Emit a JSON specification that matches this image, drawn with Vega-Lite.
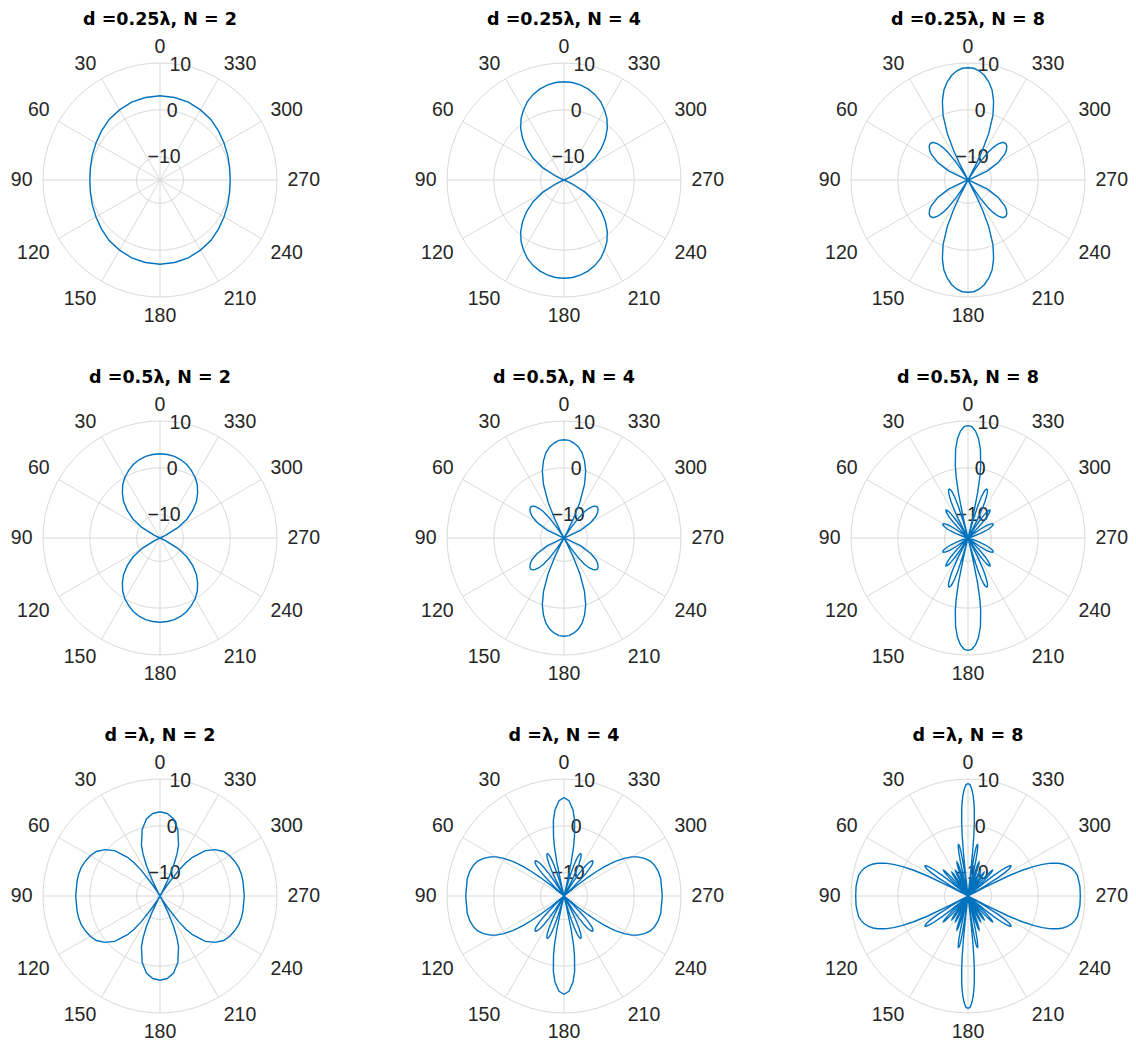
{
"$schema":"https://vega.github.io/schema/vega-lite/v6.json",
"background":"white",
"padding":{"left":10,"top":11,"right":5,"bottom":2},
"bounds":"flush",
"columns":3,
"spacing":{"row":124,"column":170},
"config":{"view":{"stroke":null},
 "title":{"font":"DejaVu Sans","fontSize":17.5,"fontWeight":"bold","color":"#000000","frame":"group","anchor":"middle","offset":8},
 "text":{"font":"Liberation Sans","fontSize":19.5,"color":"#262626"},
 "rule":{"color":"#d9d9d9","strokeWidth":1},
 "point":{"color":"#d9d9d9","strokeWidth":1,"opacity":1,"filled":false,"shape":"circle"},
 "line":{"color":"#0072BD","strokeWidth":1.4}},
"datasets":{
"spokes":[{"a":0},{"a":30},{"a":60},{"a":90},{"a":120},{"a":150}],
"rings":[{"v":-10},{"v":0},{"v":10}],
"alabels":[{"a":0,"t":"0"},{"a":30,"t":"30"},{"a":60,"t":"60"},{"a":90,"t":"90"},{"a":120,"t":"120"},{"a":150,"t":"150"},{"a":180,"t":"180"},{"a":210,"t":"210"},{"a":240,"t":"240"},{"a":270,"t":"270"},{"a":300,"t":"300"},{"a":330,"t":"330"}],
"rlabels":[{"v":-10,"t":"−10"},{"v":0,"t":"0"},{"v":10,"t":"10"}],
"curves":[
{"p":1,"a":0,"r":3.0},{"p":1,"a":10,"r":2.9},{"p":1,"a":20,"r":2.7},{"p":1,"a":30,"r":2.3},{"p":1,"a":40,"r":1.9},{"p":1,"a":50,"r":1.3},{"p":1,"a":60,"r":0.8},{"p":1,"a":70,"r":0.4},{"p":1,"a":80,"r":0.1},{"p":1,"a":90,"r":0},{"p":1,"a":100,"r":0.1},{"p":1,"a":110,"r":0.4},{"p":1,"a":120,"r":0.8},{"p":1,"a":130,"r":1.3},{"p":1,"a":140,"r":1.9},{"p":1,"a":150,"r":2.3},{"p":1,"a":160,"r":2.7},{"p":1,"a":170,"r":2.9},{"p":1,"a":180,"r":3.0},{"p":1,"a":190,"r":2.9},{"p":1,"a":200,"r":2.7},{"p":1,"a":210,"r":2.3},{"p":1,"a":220,"r":1.9},{"p":1,"a":230,"r":1.3},{"p":1,"a":240,"r":0.8},{"p":1,"a":250,"r":0.4},{"p":1,"a":260,"r":0.1},{"p":1,"a":270,"r":0},{"p":1,"a":280,"r":0.1},{"p":1,"a":290,"r":0.4},{"p":1,"a":300,"r":0.8},{"p":1,"a":310,"r":1.3},{"p":1,"a":320,"r":1.9},{"p":1,"a":330,"r":2.3},{"p":1,"a":340,"r":2.7},{"p":1,"a":350,"r":2.9},{"p":1,"a":360,"r":3.0},

{"p":2,"a":0,"r":6.0},{"p":2,"a":5,"r":5.9},{"p":2,"a":10,"r":5.6},{"p":2,"a":15,"r":5.1},{"p":2,"a":20,"r":4.4},{"p":2,"a":25,"r":3.5},{"p":2,"a":30,"r":2.3},{"p":2,"a":35,"r":1.0},{"p":2,"a":40,"r":-0.6},{"p":2,"a":45,"r":-2.5},{"p":2,"a":50,"r":-4.6},{"p":2,"a":55,"r":-7.0},{"p":2,"a":60,"r":-9.8},{"p":2,"a":65,"r":-13.1},{"p":2,"a":67,"r":-14.6},{"p":2,"a":68,"r":-15},{"p":2,"a":90,"r":-15},
{"p":2,"a":112,"r":-15},{"p":2,"a":113,"r":-14.6},{"p":2,"a":115,"r":-13.1},{"p":2,"a":120,"r":-9.8},{"p":2,"a":125,"r":-7.0},{"p":2,"a":130,"r":-4.6},{"p":2,"a":135,"r":-2.5},{"p":2,"a":140,"r":-0.6},{"p":2,"a":145,"r":1.0},{"p":2,"a":150,"r":2.3},{"p":2,"a":155,"r":3.5},{"p":2,"a":160,"r":4.4},{"p":2,"a":165,"r":5.1},{"p":2,"a":170,"r":5.6},{"p":2,"a":175,"r":5.9},{"p":2,"a":180,"r":6.0},
{"p":2,"a":185,"r":5.9},{"p":2,"a":190,"r":5.6},{"p":2,"a":195,"r":5.1},{"p":2,"a":200,"r":4.4},{"p":2,"a":205,"r":3.5},{"p":2,"a":210,"r":2.3},{"p":2,"a":215,"r":1.0},{"p":2,"a":220,"r":-0.6},{"p":2,"a":225,"r":-2.5},{"p":2,"a":230,"r":-4.6},{"p":2,"a":235,"r":-7.0},{"p":2,"a":240,"r":-9.8},{"p":2,"a":245,"r":-13.1},{"p":2,"a":247,"r":-14.6},{"p":2,"a":248,"r":-15},{"p":2,"a":270,"r":-15},
{"p":2,"a":292,"r":-15},{"p":2,"a":293,"r":-14.6},{"p":2,"a":295,"r":-13.1},{"p":2,"a":300,"r":-9.8},{"p":2,"a":305,"r":-7.0},{"p":2,"a":310,"r":-4.6},{"p":2,"a":315,"r":-2.5},{"p":2,"a":320,"r":-0.6},{"p":2,"a":325,"r":1.0},{"p":2,"a":330,"r":2.3},{"p":2,"a":335,"r":3.5},{"p":2,"a":340,"r":4.4},{"p":2,"a":345,"r":5.1},{"p":2,"a":350,"r":5.6},{"p":2,"a":355,"r":5.9},{"p":2,"a":360,"r":6.0},

{"p":3,"a":0,"r":9.0},{"p":3,"a":3,"r":8.9},{"p":3,"a":6,"r":8.4},{"p":3,"a":9,"r":7.6},{"p":3,"a":12,"r":6.4},{"p":3,"a":15,"r":4.9},{"p":3,"a":18,"r":2.7},{"p":3,"a":21,"r":-0.1},{"p":3,"a":24,"r":-4.1},{"p":3,"a":26,"r":-8.1},{"p":3,"a":27,"r":-10.8},{"p":3,"a":28,"r":-14.6},{"p":3,"a":28.3,"r":-15},{"p":3,"a":32,"r":-15},{"p":3,"a":33,"r":-12.6},{"p":3,"a":34,"r":-10.4},{"p":3,"a":36,"r":-7.6},{"p":3,"a":38,"r":-6.0},{"p":3,"a":40,"r":-4.9},{"p":3,"a":43,"r":-4.0},{"p":3,"a":46,"r":-3.8},{"p":3,"a":49,"r":-4.0},{"p":3,"a":52,"r":-4.6},{"p":3,"a":55,"r":-5.4},{"p":3,"a":60,"r":-7.6},{"p":3,"a":65,"r":-10.4},{"p":3,"a":70,"r":-14.2},{"p":3,"a":71,"r":-15},{"p":3,"a":90,"r":-15},
{"p":3,"a":109,"r":-15},{"p":3,"a":110,"r":-14.2},{"p":3,"a":115,"r":-10.4},{"p":3,"a":120,"r":-7.6},{"p":3,"a":125,"r":-5.4},{"p":3,"a":128,"r":-4.6},{"p":3,"a":131,"r":-4.0},{"p":3,"a":134,"r":-3.8},{"p":3,"a":137,"r":-4.0},{"p":3,"a":140,"r":-4.9},{"p":3,"a":142,"r":-6.0},{"p":3,"a":144,"r":-7.6},{"p":3,"a":146,"r":-10.4},{"p":3,"a":147,"r":-12.6},{"p":3,"a":148,"r":-15},{"p":3,"a":151.7,"r":-15},{"p":3,"a":152,"r":-14.6},{"p":3,"a":153,"r":-10.8},{"p":3,"a":154,"r":-8.1},{"p":3,"a":156,"r":-4.1},{"p":3,"a":159,"r":-0.1},{"p":3,"a":162,"r":2.7},{"p":3,"a":165,"r":4.9},{"p":3,"a":168,"r":6.4},{"p":3,"a":171,"r":7.6},{"p":3,"a":174,"r":8.4},{"p":3,"a":177,"r":8.9},{"p":3,"a":180,"r":9.0},
{"p":3,"a":183,"r":8.9},{"p":3,"a":186,"r":8.4},{"p":3,"a":189,"r":7.6},{"p":3,"a":192,"r":6.4},{"p":3,"a":195,"r":4.9},{"p":3,"a":198,"r":2.7},{"p":3,"a":201,"r":-0.1},{"p":3,"a":204,"r":-4.1},{"p":3,"a":206,"r":-8.1},{"p":3,"a":207,"r":-10.8},{"p":3,"a":208,"r":-14.6},{"p":3,"a":208.3,"r":-15},{"p":3,"a":212,"r":-15},{"p":3,"a":213,"r":-12.6},{"p":3,"a":214,"r":-10.4},{"p":3,"a":216,"r":-7.6},{"p":3,"a":218,"r":-6.0},{"p":3,"a":220,"r":-4.9},{"p":3,"a":223,"r":-4.0},{"p":3,"a":226,"r":-3.8},{"p":3,"a":229,"r":-4.0},{"p":3,"a":232,"r":-4.6},{"p":3,"a":235,"r":-5.4},{"p":3,"a":240,"r":-7.6},{"p":3,"a":245,"r":-10.4},{"p":3,"a":250,"r":-14.2},{"p":3,"a":251,"r":-15},{"p":3,"a":270,"r":-15},
{"p":3,"a":289,"r":-15},{"p":3,"a":290,"r":-14.2},{"p":3,"a":295,"r":-10.4},{"p":3,"a":300,"r":-7.6},{"p":3,"a":305,"r":-5.4},{"p":3,"a":308,"r":-4.6},{"p":3,"a":311,"r":-4.0},{"p":3,"a":314,"r":-3.8},{"p":3,"a":317,"r":-4.0},{"p":3,"a":320,"r":-4.9},{"p":3,"a":322,"r":-6.0},{"p":3,"a":324,"r":-7.6},{"p":3,"a":326,"r":-10.4},{"p":3,"a":327,"r":-12.6},{"p":3,"a":328,"r":-15},{"p":3,"a":331.7,"r":-15},{"p":3,"a":332,"r":-14.6},{"p":3,"a":333,"r":-10.8},{"p":3,"a":334,"r":-8.1},{"p":3,"a":336,"r":-4.1},{"p":3,"a":339,"r":-0.1},{"p":3,"a":342,"r":2.7},{"p":3,"a":345,"r":4.9},{"p":3,"a":348,"r":6.4},{"p":3,"a":351,"r":7.6},{"p":3,"a":354,"r":8.4},{"p":3,"a":357,"r":8.9},{"p":3,"a":360,"r":9.0},

{"p":4,"a":0,"r":3.0},{"p":4,"a":5,"r":2.9},{"p":4,"a":10,"r":2.7},{"p":4,"a":15,"r":2.3},{"p":4,"a":20,"r":1.7},{"p":4,"a":25,"r":0.9},{"p":4,"a":30,"r":0},{"p":4,"a":35,"r":-1.1},{"p":4,"a":40,"r":-2.5},{"p":4,"a":45,"r":-4.0},{"p":4,"a":50,"r":-5.9},{"p":4,"a":55,"r":-8.0},{"p":4,"a":60,"r":-10.6},{"p":4,"a":65,"r":-13.7},{"p":4,"a":67,"r":-15},{"p":4,"a":90,"r":-15},
{"p":4,"a":113,"r":-15},{"p":4,"a":115,"r":-13.7},{"p":4,"a":120,"r":-10.6},{"p":4,"a":125,"r":-8.0},{"p":4,"a":130,"r":-5.9},{"p":4,"a":135,"r":-4.0},{"p":4,"a":140,"r":-2.5},{"p":4,"a":145,"r":-1.1},{"p":4,"a":150,"r":0},{"p":4,"a":155,"r":0.9},{"p":4,"a":160,"r":1.7},{"p":4,"a":165,"r":2.3},{"p":4,"a":170,"r":2.7},{"p":4,"a":175,"r":2.9},{"p":4,"a":180,"r":3.0},
{"p":4,"a":185,"r":2.9},{"p":4,"a":190,"r":2.7},{"p":4,"a":195,"r":2.3},{"p":4,"a":200,"r":1.7},{"p":4,"a":205,"r":0.9},{"p":4,"a":210,"r":0},{"p":4,"a":215,"r":-1.1},{"p":4,"a":220,"r":-2.5},{"p":4,"a":225,"r":-4.0},{"p":4,"a":230,"r":-5.9},{"p":4,"a":235,"r":-8.0},{"p":4,"a":240,"r":-10.6},{"p":4,"a":245,"r":-13.7},{"p":4,"a":247,"r":-15},{"p":4,"a":270,"r":-15},
{"p":4,"a":293,"r":-15},{"p":4,"a":295,"r":-13.7},{"p":4,"a":300,"r":-10.6},{"p":4,"a":305,"r":-8.0},{"p":4,"a":310,"r":-5.9},{"p":4,"a":315,"r":-4.0},{"p":4,"a":320,"r":-2.5},{"p":4,"a":325,"r":-1.1},{"p":4,"a":330,"r":0},{"p":4,"a":335,"r":0.9},{"p":4,"a":340,"r":1.7},{"p":4,"a":345,"r":2.3},{"p":4,"a":350,"r":2.7},{"p":4,"a":355,"r":2.9},{"p":4,"a":360,"r":3.0},

{"p":5,"a":0,"r":6.0},{"p":5,"a":3,"r":5.9},{"p":5,"a":6,"r":5.4},{"p":5,"a":9,"r":4.7},{"p":5,"a":12,"r":3.6},{"p":5,"a":15,"r":2.0},{"p":5,"a":18,"r":0},{"p":5,"a":21,"r":-2.8},{"p":5,"a":24,"r":-6.7},{"p":5,"a":26,"r":-10.5},{"p":5,"a":27,"r":-13.2},{"p":5,"a":27.6,"r":-15},{"p":5,"a":32,"r":-15},{"p":5,"a":33,"r":-14.7},{"p":5,"a":34,"r":-12.5},{"p":5,"a":36,"r":-9.7},{"p":5,"a":38,"r":-7.9},{"p":5,"a":40,"r":-6.7},{"p":5,"a":43,"r":-5.7},{"p":5,"a":46,"r":-5.3},{"p":5,"a":48,"r":-5.3},{"p":5,"a":50,"r":-5.5},{"p":5,"a":53,"r":-6.0},{"p":5,"a":56,"r":-6.8},{"p":5,"a":60,"r":-8.4},{"p":5,"a":65,"r":-11.0},{"p":5,"a":70,"r":-14.6},{"p":5,"a":71,"r":-15},{"p":5,"a":90,"r":-15},
{"p":5,"a":109,"r":-15},{"p":5,"a":110,"r":-14.6},{"p":5,"a":115,"r":-11.0},{"p":5,"a":120,"r":-8.4},{"p":5,"a":124,"r":-6.8},{"p":5,"a":127,"r":-6.0},{"p":5,"a":130,"r":-5.5},{"p":5,"a":132,"r":-5.3},{"p":5,"a":134,"r":-5.3},{"p":5,"a":137,"r":-5.7},{"p":5,"a":140,"r":-6.7},{"p":5,"a":142,"r":-7.9},{"p":5,"a":144,"r":-9.7},{"p":5,"a":146,"r":-12.5},{"p":5,"a":147,"r":-14.7},{"p":5,"a":148,"r":-15},{"p":5,"a":152.4,"r":-15},{"p":5,"a":153,"r":-13.2},{"p":5,"a":154,"r":-10.5},{"p":5,"a":156,"r":-6.7},{"p":5,"a":159,"r":-2.8},{"p":5,"a":162,"r":0},{"p":5,"a":165,"r":2.0},{"p":5,"a":168,"r":3.6},{"p":5,"a":171,"r":4.7},{"p":5,"a":174,"r":5.4},{"p":5,"a":177,"r":5.9},{"p":5,"a":180,"r":6.0},
{"p":5,"a":183,"r":5.9},{"p":5,"a":186,"r":5.4},{"p":5,"a":189,"r":4.7},{"p":5,"a":192,"r":3.6},{"p":5,"a":195,"r":2.0},{"p":5,"a":198,"r":0},{"p":5,"a":201,"r":-2.8},{"p":5,"a":204,"r":-6.7},{"p":5,"a":206,"r":-10.5},{"p":5,"a":207,"r":-13.2},{"p":5,"a":207.6,"r":-15},{"p":5,"a":212,"r":-15},{"p":5,"a":213,"r":-14.7},{"p":5,"a":214,"r":-12.5},{"p":5,"a":216,"r":-9.7},{"p":5,"a":218,"r":-7.9},{"p":5,"a":220,"r":-6.7},{"p":5,"a":223,"r":-5.7},{"p":5,"a":226,"r":-5.3},{"p":5,"a":228,"r":-5.3},{"p":5,"a":230,"r":-5.5},{"p":5,"a":233,"r":-6.0},{"p":5,"a":236,"r":-6.8},{"p":5,"a":240,"r":-8.4},{"p":5,"a":245,"r":-11.0},{"p":5,"a":250,"r":-14.6},{"p":5,"a":251,"r":-15},{"p":5,"a":270,"r":-15},
{"p":5,"a":289,"r":-15},{"p":5,"a":290,"r":-14.6},{"p":5,"a":295,"r":-11.0},{"p":5,"a":300,"r":-8.4},{"p":5,"a":304,"r":-6.8},{"p":5,"a":307,"r":-6.0},{"p":5,"a":310,"r":-5.5},{"p":5,"a":312,"r":-5.3},{"p":5,"a":314,"r":-5.3},{"p":5,"a":317,"r":-5.7},{"p":5,"a":320,"r":-6.7},{"p":5,"a":322,"r":-7.9},{"p":5,"a":324,"r":-9.7},{"p":5,"a":326,"r":-12.5},{"p":5,"a":327,"r":-14.7},{"p":5,"a":328,"r":-15},{"p":5,"a":332.4,"r":-15},{"p":5,"a":333,"r":-13.2},{"p":5,"a":334,"r":-10.5},{"p":5,"a":336,"r":-6.7},{"p":5,"a":339,"r":-2.8},{"p":5,"a":342,"r":0},{"p":5,"a":345,"r":2.0},{"p":5,"a":348,"r":3.6},{"p":5,"a":351,"r":4.7},{"p":5,"a":354,"r":5.4},{"p":5,"a":357,"r":5.9},{"p":5,"a":360,"r":6.0},

{"p":6,"a":0,"r":9.0},{"p":6,"a":2,"r":8.8},{"p":6,"a":4,"r":7.9},{"p":6,"a":6,"r":6.4},{"p":6,"a":8,"r":4.1},{"p":6,"a":10,"r":0.6},{"p":6,"a":11,"r":-1.8},{"p":6,"a":12,"r":-5.1},{"p":6,"a":13,"r":-10.0},{"p":6,"a":13.5,"r":-13.8},{"p":6,"a":13.7,"r":-15},{"p":6,"a":15.3,"r":-15},{"p":6,"a":15.5,"r":-14.6},{"p":6,"a":16,"r":-11.5},{"p":6,"a":17,"r":-7.9},{"p":6,"a":18,"r":-5.8},{"p":6,"a":19,"r":-4.6},{"p":6,"a":20,"r":-4.0},{"p":6,"a":21,"r":-3.8},{"p":6,"a":22,"r":-3.9},{"p":6,"a":23,"r":-4.4},{"p":6,"a":24,"r":-5.3},{"p":6,"a":25,"r":-6.5},{"p":6,"a":26,"r":-8.2},{"p":6,"a":27,"r":-10.6},{"p":6,"a":28,"r":-14.1},{"p":6,"a":28.3,"r":-15},{"p":6,"a":32,"r":-15},{"p":6,"a":33,"r":-12.1},{"p":6,"a":34,"r":-10.1},{"p":6,"a":35,"r":-8.9},{"p":6,"a":36,"r":-8.1},{"p":6,"a":37,"r":-7.6},{"p":6,"a":38,"r":-7.4},{"p":6,"a":39,"r":-7.5},{"p":6,"a":40,"r":-7.8},{"p":6,"a":41,"r":-8.4},{"p":6,"a":42,"r":-9.2},{"p":6,"a":43,"r":-10.4},{"p":6,"a":44,"r":-11.9},{"p":6,"a":45,"r":-13.9},{"p":6,"a":45.4,"r":-15},{"p":6,"a":52.2,"r":-15},{"p":6,"a":53,"r":-13.4},{"p":6,"a":54,"r":-12.0},{"p":6,"a":56,"r":-10.3},{"p":6,"a":58,"r":-9.3},{"p":6,"a":60,"r":-8.9},{"p":6,"a":62,"r":-8.9},{"p":6,"a":64,"r":-9.3},{"p":6,"a":66,"r":-10.0},{"p":6,"a":68,"r":-11.0},{"p":6,"a":70,"r":-12.3},{"p":6,"a":72,"r":-13.8},{"p":6,"a":73,"r":-14.7},{"p":6,"a":73.5,"r":-15},{"p":6,"a":90,"r":-15},
{"p":6,"a":106.5,"r":-15},{"p":6,"a":107,"r":-14.7},{"p":6,"a":108,"r":-13.8},{"p":6,"a":110,"r":-12.3},{"p":6,"a":112,"r":-11.0},{"p":6,"a":114,"r":-10.0},{"p":6,"a":116,"r":-9.3},{"p":6,"a":118,"r":-8.9},{"p":6,"a":120,"r":-8.9},{"p":6,"a":122,"r":-9.3},{"p":6,"a":124,"r":-10.3},{"p":6,"a":126,"r":-12.0},{"p":6,"a":127,"r":-13.4},{"p":6,"a":127.8,"r":-15},{"p":6,"a":134.6,"r":-15},{"p":6,"a":135,"r":-13.9},{"p":6,"a":136,"r":-11.9},{"p":6,"a":137,"r":-10.4},{"p":6,"a":138,"r":-9.2},{"p":6,"a":139,"r":-8.4},{"p":6,"a":140,"r":-7.8},{"p":6,"a":141,"r":-7.5},{"p":6,"a":142,"r":-7.4},{"p":6,"a":143,"r":-7.6},{"p":6,"a":144,"r":-8.1},{"p":6,"a":145,"r":-8.9},{"p":6,"a":146,"r":-10.1},{"p":6,"a":147,"r":-12.1},{"p":6,"a":148,"r":-15},{"p":6,"a":151.7,"r":-15},{"p":6,"a":152,"r":-14.1},{"p":6,"a":153,"r":-10.6},{"p":6,"a":154,"r":-8.2},{"p":6,"a":155,"r":-6.5},{"p":6,"a":156,"r":-5.3},{"p":6,"a":157,"r":-4.4},{"p":6,"a":158,"r":-3.9},{"p":6,"a":159,"r":-3.8},{"p":6,"a":160,"r":-4.0},{"p":6,"a":161,"r":-4.6},{"p":6,"a":162,"r":-5.8},{"p":6,"a":163,"r":-7.9},{"p":6,"a":164,"r":-11.5},{"p":6,"a":164.5,"r":-14.6},{"p":6,"a":164.7,"r":-15},{"p":6,"a":166.3,"r":-15},{"p":6,"a":166.5,"r":-13.8},{"p":6,"a":167,"r":-10.0},{"p":6,"a":168,"r":-5.1},{"p":6,"a":169,"r":-1.8},{"p":6,"a":170,"r":0.6},{"p":6,"a":172,"r":4.1},{"p":6,"a":174,"r":6.4},{"p":6,"a":176,"r":7.9},{"p":6,"a":178,"r":8.8},{"p":6,"a":180,"r":9.0},
{"p":6,"a":182,"r":8.8},{"p":6,"a":184,"r":7.9},{"p":6,"a":186,"r":6.4},{"p":6,"a":188,"r":4.1},{"p":6,"a":190,"r":0.6},{"p":6,"a":191,"r":-1.8},{"p":6,"a":192,"r":-5.1},{"p":6,"a":193,"r":-10.0},{"p":6,"a":193.5,"r":-13.8},{"p":6,"a":193.7,"r":-15},{"p":6,"a":195.3,"r":-15},{"p":6,"a":195.5,"r":-14.6},{"p":6,"a":196,"r":-11.5},{"p":6,"a":197,"r":-7.9},{"p":6,"a":198,"r":-5.8},{"p":6,"a":199,"r":-4.6},{"p":6,"a":200,"r":-4.0},{"p":6,"a":201,"r":-3.8},{"p":6,"a":202,"r":-3.9},{"p":6,"a":203,"r":-4.4},{"p":6,"a":204,"r":-5.3},{"p":6,"a":205,"r":-6.5},{"p":6,"a":206,"r":-8.2},{"p":6,"a":207,"r":-10.6},{"p":6,"a":208,"r":-14.1},{"p":6,"a":208.3,"r":-15},{"p":6,"a":212,"r":-15},{"p":6,"a":213,"r":-12.1},{"p":6,"a":214,"r":-10.1},{"p":6,"a":215,"r":-8.9},{"p":6,"a":216,"r":-8.1},{"p":6,"a":217,"r":-7.6},{"p":6,"a":218,"r":-7.4},{"p":6,"a":219,"r":-7.5},{"p":6,"a":220,"r":-7.8},{"p":6,"a":221,"r":-8.4},{"p":6,"a":222,"r":-9.2},{"p":6,"a":223,"r":-10.4},{"p":6,"a":224,"r":-11.9},{"p":6,"a":225,"r":-13.9},{"p":6,"a":225.4,"r":-15},{"p":6,"a":232.2,"r":-15},{"p":6,"a":233,"r":-13.4},{"p":6,"a":234,"r":-12.0},{"p":6,"a":236,"r":-10.3},{"p":6,"a":238,"r":-9.3},{"p":6,"a":240,"r":-8.9},{"p":6,"a":242,"r":-8.9},{"p":6,"a":244,"r":-9.3},{"p":6,"a":246,"r":-10.0},{"p":6,"a":248,"r":-11.0},{"p":6,"a":250,"r":-12.3},{"p":6,"a":252,"r":-13.8},{"p":6,"a":253,"r":-14.7},{"p":6,"a":253.5,"r":-15},{"p":6,"a":270,"r":-15},
{"p":6,"a":286.5,"r":-15},{"p":6,"a":287,"r":-14.7},{"p":6,"a":288,"r":-13.8},{"p":6,"a":290,"r":-12.3},{"p":6,"a":292,"r":-11.0},{"p":6,"a":294,"r":-10.0},{"p":6,"a":296,"r":-9.3},{"p":6,"a":298,"r":-8.9},{"p":6,"a":300,"r":-8.9},{"p":6,"a":302,"r":-9.3},{"p":6,"a":304,"r":-10.3},{"p":6,"a":306,"r":-12.0},{"p":6,"a":307,"r":-13.4},{"p":6,"a":307.8,"r":-15},{"p":6,"a":314.6,"r":-15},{"p":6,"a":315,"r":-13.9},{"p":6,"a":316,"r":-11.9},{"p":6,"a":317,"r":-10.4},{"p":6,"a":318,"r":-9.2},{"p":6,"a":319,"r":-8.4},{"p":6,"a":320,"r":-7.8},{"p":6,"a":321,"r":-7.5},{"p":6,"a":322,"r":-7.4},{"p":6,"a":323,"r":-7.6},{"p":6,"a":324,"r":-8.1},{"p":6,"a":325,"r":-8.9},{"p":6,"a":326,"r":-10.1},{"p":6,"a":327,"r":-12.1},{"p":6,"a":328,"r":-15},{"p":6,"a":331.7,"r":-15},{"p":6,"a":332,"r":-14.1},{"p":6,"a":333,"r":-10.6},{"p":6,"a":334,"r":-8.2},{"p":6,"a":335,"r":-6.5},{"p":6,"a":336,"r":-5.3},{"p":6,"a":337,"r":-4.4},{"p":6,"a":338,"r":-3.9},{"p":6,"a":339,"r":-3.8},{"p":6,"a":340,"r":-4.0},{"p":6,"a":341,"r":-4.6},{"p":6,"a":342,"r":-5.8},{"p":6,"a":343,"r":-7.9},{"p":6,"a":344,"r":-11.5},{"p":6,"a":344.5,"r":-14.6},{"p":6,"a":344.7,"r":-15},{"p":6,"a":346.3,"r":-15},{"p":6,"a":346.5,"r":-13.8},{"p":6,"a":347,"r":-10.0},{"p":6,"a":348,"r":-5.1},{"p":6,"a":349,"r":-1.8},{"p":6,"a":350,"r":0.6},{"p":6,"a":352,"r":4.1},{"p":6,"a":354,"r":6.4},{"p":6,"a":356,"r":7.9},{"p":6,"a":358,"r":8.8},{"p":6,"a":360,"r":9.0},

{"p":7,"a":0,"r":3.0},{"p":7,"a":5,"r":2.7},{"p":7,"a":10,"r":1.7},{"p":7,"a":15,"r":-0.3},{"p":7,"a":20,"r":-3.4},{"p":7,"a":22,"r":-5.3},{"p":7,"a":24,"r":-7.8},{"p":7,"a":26,"r":-11.3},{"p":7,"a":27,"r":-13.8},{"p":7,"a":28,"r":-15},{"p":7,"a":32,"r":-15},{"p":7,"a":33,"r":-14.1},{"p":7,"a":34,"r":-11.7},{"p":7,"a":36,"r":-8.3},{"p":7,"a":38,"r":-6.0},{"p":7,"a":40,"r":-4.2},{"p":7,"a":45,"r":-1.3},{"p":7,"a":50,"r":0.4},{"p":7,"a":55,"r":1.6},{"p":7,"a":60,"r":2.2},{"p":7,"a":65,"r":2.6},{"p":7,"a":70,"r":2.9},{"p":7,"a":75,"r":3.0},{"p":7,"a":80,"r":3.0},{"p":7,"a":90,"r":3.0},
{"p":7,"a":100,"r":3.0},{"p":7,"a":105,"r":3.0},{"p":7,"a":110,"r":2.9},{"p":7,"a":115,"r":2.6},{"p":7,"a":120,"r":2.2},{"p":7,"a":125,"r":1.6},{"p":7,"a":130,"r":0.4},{"p":7,"a":135,"r":-1.3},{"p":7,"a":140,"r":-4.2},{"p":7,"a":142,"r":-6.0},{"p":7,"a":144,"r":-8.3},{"p":7,"a":146,"r":-11.7},{"p":7,"a":147,"r":-14.1},{"p":7,"a":148,"r":-15},{"p":7,"a":152,"r":-15},{"p":7,"a":153,"r":-13.8},{"p":7,"a":154,"r":-11.3},{"p":7,"a":156,"r":-7.8},{"p":7,"a":158,"r":-5.3},{"p":7,"a":160,"r":-3.4},{"p":7,"a":165,"r":-0.3},{"p":7,"a":170,"r":1.7},{"p":7,"a":175,"r":2.7},{"p":7,"a":180,"r":3.0},
{"p":7,"a":185,"r":2.7},{"p":7,"a":190,"r":1.7},{"p":7,"a":195,"r":-0.3},{"p":7,"a":200,"r":-3.4},{"p":7,"a":202,"r":-5.3},{"p":7,"a":204,"r":-7.8},{"p":7,"a":206,"r":-11.3},{"p":7,"a":207,"r":-13.8},{"p":7,"a":208,"r":-15},{"p":7,"a":212,"r":-15},{"p":7,"a":213,"r":-14.1},{"p":7,"a":214,"r":-11.7},{"p":7,"a":216,"r":-8.3},{"p":7,"a":218,"r":-6.0},{"p":7,"a":220,"r":-4.2},{"p":7,"a":225,"r":-1.3},{"p":7,"a":230,"r":0.4},{"p":7,"a":235,"r":1.6},{"p":7,"a":240,"r":2.2},{"p":7,"a":245,"r":2.6},{"p":7,"a":250,"r":2.9},{"p":7,"a":255,"r":3.0},{"p":7,"a":260,"r":3.0},{"p":7,"a":270,"r":3.0},
{"p":7,"a":280,"r":3.0},{"p":7,"a":285,"r":3.0},{"p":7,"a":290,"r":2.9},{"p":7,"a":295,"r":2.6},{"p":7,"a":300,"r":2.2},{"p":7,"a":305,"r":1.6},{"p":7,"a":310,"r":0.4},{"p":7,"a":315,"r":-1.3},{"p":7,"a":320,"r":-4.2},{"p":7,"a":322,"r":-6.0},{"p":7,"a":324,"r":-8.3},{"p":7,"a":326,"r":-11.7},{"p":7,"a":327,"r":-14.1},{"p":7,"a":328,"r":-15},{"p":7,"a":332,"r":-15},{"p":7,"a":333,"r":-13.8},{"p":7,"a":334,"r":-11.3},{"p":7,"a":336,"r":-7.8},{"p":7,"a":338,"r":-5.3},{"p":7,"a":340,"r":-3.4},{"p":7,"a":345,"r":-0.3},{"p":7,"a":350,"r":1.7},{"p":7,"a":355,"r":2.7},{"p":7,"a":360,"r":3.0},

{"p":8,"a":0,"r":6.0},{"p":8,"a":3,"r":5.4},{"p":8,"a":6,"r":3.5},{"p":8,"a":8,"r":1.3},{"p":8,"a":10,"r":-2.1},{"p":8,"a":11,"r":-4.4},{"p":8,"a":12,"r":-7.6},{"p":8,"a":13,"r":-12.5},{"p":8,"a":13.3,"r":-14.5},{"p":8,"a":13.4,"r":-15},{"p":8,"a":15.5,"r":-15},{"p":8,"a":16,"r":-13.7},{"p":8,"a":17,"r":-9.9},{"p":8,"a":18,"r":-7.8},{"p":8,"a":19,"r":-6.5},{"p":8,"a":20,"r":-5.7},{"p":8,"a":21,"r":-5.3},{"p":8,"a":22,"r":-5.3},{"p":8,"a":23,"r":-5.6},{"p":8,"a":24,"r":-6.3},{"p":8,"a":25,"r":-7.4},{"p":8,"a":26,"r":-9.0},{"p":8,"a":27,"r":-11.2},{"p":8,"a":28,"r":-14.5},{"p":8,"a":28.2,"r":-15},{"p":8,"a":31.8,"r":-15},{"p":8,"a":32,"r":-14.7},{"p":8,"a":33,"r":-11.4},{"p":8,"a":34,"r":-9.3},{"p":8,"a":35,"r":-7.7},{"p":8,"a":36,"r":-6.7},{"p":8,"a":37,"r":-5.9},{"p":8,"a":38,"r":-5.5},{"p":8,"a":39,"r":-5.3},{"p":8,"a":40,"r":-5.4},{"p":8,"a":41,"r":-5.6},{"p":8,"a":42,"r":-6.1},{"p":8,"a":43,"r":-7.0},{"p":8,"a":44,"r":-8.2},{"p":8,"a":45,"r":-9.8},{"p":8,"a":46,"r":-12.3},{"p":8,"a":46.5,"r":-14.0},{"p":8,"a":46.8,"r":-15},{"p":8,"a":50.2,"r":-15},{"p":8,"a":50.5,"r":-13.8},{"p":8,"a":51,"r":-11.7},{"p":8,"a":52,"r":-8.6},{"p":8,"a":53,"r":-6.3},{"p":8,"a":54,"r":-4.5},{"p":8,"a":55,"r":-3.0},{"p":8,"a":56,"r":-1.8},{"p":8,"a":58,"r":0.2},{"p":8,"a":60,"r":1.7},{"p":8,"a":62,"r":2.8},{"p":8,"a":65,"r":4.0},{"p":8,"a":68,"r":4.9},{"p":8,"a":71,"r":5.4},{"p":8,"a":75,"r":5.8},{"p":8,"a":80,"r":6.0},{"p":8,"a":90,"r":6.0},
{"p":8,"a":100,"r":6.0},{"p":8,"a":105,"r":5.8},{"p":8,"a":109,"r":5.4},{"p":8,"a":112,"r":4.9},{"p":8,"a":115,"r":4.0},{"p":8,"a":118,"r":2.8},{"p":8,"a":120,"r":1.7},{"p":8,"a":122,"r":0.2},{"p":8,"a":124,"r":-1.8},{"p":8,"a":125,"r":-3.0},{"p":8,"a":126,"r":-4.5},{"p":8,"a":127,"r":-6.3},{"p":8,"a":128,"r":-8.6},{"p":8,"a":129,"r":-11.7},{"p":8,"a":129.5,"r":-13.8},{"p":8,"a":129.8,"r":-15},{"p":8,"a":133.2,"r":-15},{"p":8,"a":133.5,"r":-14.0},{"p":8,"a":134,"r":-12.3},{"p":8,"a":135,"r":-9.8},{"p":8,"a":136,"r":-8.2},{"p":8,"a":137,"r":-7.0},{"p":8,"a":138,"r":-6.1},{"p":8,"a":139,"r":-5.6},{"p":8,"a":140,"r":-5.4},{"p":8,"a":141,"r":-5.3},{"p":8,"a":142,"r":-5.5},{"p":8,"a":143,"r":-5.9},{"p":8,"a":144,"r":-6.7},{"p":8,"a":145,"r":-7.7},{"p":8,"a":146,"r":-9.3},{"p":8,"a":147,"r":-11.4},{"p":8,"a":148,"r":-14.7},{"p":8,"a":148.2,"r":-15},{"p":8,"a":151.8,"r":-15},{"p":8,"a":152,"r":-14.5},{"p":8,"a":153,"r":-11.2},{"p":8,"a":154,"r":-9.0},{"p":8,"a":155,"r":-7.4},{"p":8,"a":156,"r":-6.3},{"p":8,"a":157,"r":-5.6},{"p":8,"a":158,"r":-5.3},{"p":8,"a":159,"r":-5.3},{"p":8,"a":160,"r":-5.7},{"p":8,"a":161,"r":-6.5},{"p":8,"a":162,"r":-7.8},{"p":8,"a":163,"r":-9.9},{"p":8,"a":164,"r":-13.7},{"p":8,"a":164.5,"r":-15},{"p":8,"a":166.6,"r":-15},{"p":8,"a":166.7,"r":-14.5},{"p":8,"a":167,"r":-12.5},{"p":8,"a":168,"r":-7.6},{"p":8,"a":169,"r":-4.4},{"p":8,"a":170,"r":-2.1},{"p":8,"a":172,"r":1.3},{"p":8,"a":174,"r":3.5},{"p":8,"a":177,"r":5.4},{"p":8,"a":180,"r":6.0},
{"p":8,"a":183,"r":5.4},{"p":8,"a":186,"r":3.5},{"p":8,"a":188,"r":1.3},{"p":8,"a":190,"r":-2.1},{"p":8,"a":191,"r":-4.4},{"p":8,"a":192,"r":-7.6},{"p":8,"a":193,"r":-12.5},{"p":8,"a":193.3,"r":-14.5},{"p":8,"a":193.4,"r":-15},{"p":8,"a":195.5,"r":-15},{"p":8,"a":196,"r":-13.7},{"p":8,"a":197,"r":-9.9},{"p":8,"a":198,"r":-7.8},{"p":8,"a":199,"r":-6.5},{"p":8,"a":200,"r":-5.7},{"p":8,"a":201,"r":-5.3},{"p":8,"a":202,"r":-5.3},{"p":8,"a":203,"r":-5.6},{"p":8,"a":204,"r":-6.3},{"p":8,"a":205,"r":-7.4},{"p":8,"a":206,"r":-9.0},{"p":8,"a":207,"r":-11.2},{"p":8,"a":208,"r":-14.5},{"p":8,"a":208.2,"r":-15},{"p":8,"a":211.8,"r":-15},{"p":8,"a":212,"r":-14.7},{"p":8,"a":213,"r":-11.4},{"p":8,"a":214,"r":-9.3},{"p":8,"a":215,"r":-7.7},{"p":8,"a":216,"r":-6.7},{"p":8,"a":217,"r":-5.9},{"p":8,"a":218,"r":-5.5},{"p":8,"a":219,"r":-5.3},{"p":8,"a":220,"r":-5.4},{"p":8,"a":221,"r":-5.6},{"p":8,"a":222,"r":-6.1},{"p":8,"a":223,"r":-7.0},{"p":8,"a":224,"r":-8.2},{"p":8,"a":225,"r":-9.8},{"p":8,"a":226,"r":-12.3},{"p":8,"a":226.5,"r":-14.0},{"p":8,"a":226.8,"r":-15},{"p":8,"a":230.2,"r":-15},{"p":8,"a":230.5,"r":-13.8},{"p":8,"a":231,"r":-11.7},{"p":8,"a":232,"r":-8.6},{"p":8,"a":233,"r":-6.3},{"p":8,"a":234,"r":-4.5},{"p":8,"a":235,"r":-3.0},{"p":8,"a":236,"r":-1.8},{"p":8,"a":238,"r":0.2},{"p":8,"a":240,"r":1.7},{"p":8,"a":242,"r":2.8},{"p":8,"a":245,"r":4.0},{"p":8,"a":248,"r":4.9},{"p":8,"a":251,"r":5.4},{"p":8,"a":255,"r":5.8},{"p":8,"a":260,"r":6.0},{"p":8,"a":270,"r":6.0},
{"p":8,"a":280,"r":6.0},{"p":8,"a":285,"r":5.8},{"p":8,"a":289,"r":5.4},{"p":8,"a":292,"r":4.9},{"p":8,"a":295,"r":4.0},{"p":8,"a":298,"r":2.8},{"p":8,"a":300,"r":1.7},{"p":8,"a":302,"r":0.2},{"p":8,"a":304,"r":-1.8},{"p":8,"a":305,"r":-3.0},{"p":8,"a":306,"r":-4.5},{"p":8,"a":307,"r":-6.3},{"p":8,"a":308,"r":-8.6},{"p":8,"a":309,"r":-11.7},{"p":8,"a":309.5,"r":-13.8},{"p":8,"a":309.8,"r":-15},{"p":8,"a":313.2,"r":-15},{"p":8,"a":313.5,"r":-14.0},{"p":8,"a":314,"r":-12.3},{"p":8,"a":315,"r":-9.8},{"p":8,"a":316,"r":-8.2},{"p":8,"a":317,"r":-7.0},{"p":8,"a":318,"r":-6.1},{"p":8,"a":319,"r":-5.6},{"p":8,"a":320,"r":-5.4},{"p":8,"a":321,"r":-5.3},{"p":8,"a":322,"r":-5.5},{"p":8,"a":323,"r":-5.9},{"p":8,"a":324,"r":-6.7},{"p":8,"a":325,"r":-7.7},{"p":8,"a":326,"r":-9.3},{"p":8,"a":327,"r":-11.4},{"p":8,"a":328,"r":-14.7},{"p":8,"a":328.2,"r":-15},{"p":8,"a":331.8,"r":-15},{"p":8,"a":332,"r":-14.5},{"p":8,"a":333,"r":-11.2},{"p":8,"a":334,"r":-9.0},{"p":8,"a":335,"r":-7.4},{"p":8,"a":336,"r":-6.3},{"p":8,"a":337,"r":-5.6},{"p":8,"a":338,"r":-5.3},{"p":8,"a":339,"r":-5.3},{"p":8,"a":340,"r":-5.7},{"p":8,"a":341,"r":-6.5},{"p":8,"a":342,"r":-7.8},{"p":8,"a":343,"r":-9.9},{"p":8,"a":344,"r":-13.7},{"p":8,"a":344.5,"r":-15},{"p":8,"a":346.6,"r":-15},{"p":8,"a":346.7,"r":-14.5},{"p":8,"a":347,"r":-12.5},{"p":8,"a":348,"r":-7.6},{"p":8,"a":349,"r":-4.4},{"p":8,"a":350,"r":-2.1},{"p":8,"a":352,"r":1.3},{"p":8,"a":354,"r":3.5},{"p":8,"a":357,"r":5.4},{"p":8,"a":360,"r":6.0},

{"p":9,"a":0,"r":9.0},{"p":9,"a":1,"r":8.8},{"p":9,"a":2,"r":7.9},{"p":9,"a":3,"r":6.4},{"p":9,"a":4,"r":4.1},{"p":9,"a":5,"r":0.5},{"p":9,"a":5.5,"r":-2.0},{"p":9,"a":6,"r":-5.4},{"p":9,"a":6.5,"r":-10.5},{"p":9,"a":6.7,"r":-13.8},{"p":9,"a":6.8,"r":-15},
{"p":9,"a":7.65,"r":-15},{"p":9,"a":7.8,"r":-12.9},{"p":9,"a":8,"r":-10.7},{"p":9,"a":8.5,"r":-7.4},{"p":9,"a":9,"r":-5.5},{"p":9,"a":9.5,"r":-4.4},{"p":9,"a":10,"r":-3.9},{"p":9,"a":10.5,"r":-3.8},{"p":9,"a":11,"r":-4.1},{"p":9,"a":11.5,"r":-4.8},{"p":9,"a":12,"r":-5.9},{"p":9,"a":12.5,"r":-7.5},{"p":9,"a":13,"r":-9.9},{"p":9,"a":13.5,"r":-13.4},{"p":9,"a":13.7,"r":-15},
{"p":9,"a":15.38,"r":-15},{"p":9,"a":15.5,"r":-14.0},{"p":9,"a":16,"r":-11.1},{"p":9,"a":16.5,"r":-9.3},{"p":9,"a":17,"r":-8.2},{"p":9,"a":17.5,"r":-7.6},{"p":9,"a":18,"r":-7.4},{"p":9,"a":18.5,"r":-7.6},{"p":9,"a":19,"r":-8.1},{"p":9,"a":19.5,"r":-9.1},{"p":9,"a":20,"r":-10.6},{"p":9,"a":20.5,"r":-12.7},{"p":9,"a":20.8,"r":-14.5},{"p":9,"a":20.9,"r":-15},
{"p":9,"a":23.13,"r":-15},{"p":9,"a":23.3,"r":-14.7},{"p":9,"a":23.5,"r":-13.6},{"p":9,"a":24,"r":-11.6},{"p":9,"a":24.5,"r":-10.2},{"p":9,"a":25,"r":-9.4},{"p":9,"a":25.5,"r":-9.0},{"p":9,"a":26,"r":-8.9},{"p":9,"a":26.5,"r":-9.1},{"p":9,"a":27,"r":-9.7},{"p":9,"a":27.5,"r":-10.7},{"p":9,"a":28,"r":-12.2},{"p":9,"a":28.5,"r":-14.3},{"p":9,"a":28.7,"r":-15},
{"p":9,"a":31.33,"r":-15},{"p":9,"a":31.52,"r":-14.3},{"p":9,"a":32.03,"r":-12.2},{"p":9,"a":32.57,"r":-10.7},{"p":9,"a":33.1,"r":-9.7},{"p":9,"a":33.64,"r":-9.1},{"p":9,"a":34.17,"r":-8.9},{"p":9,"a":34.71,"r":-9.0},{"p":9,"a":35.27,"r":-9.4},{"p":9,"a":35.82,"r":-10.2},{"p":9,"a":36.39,"r":-11.6},{"p":9,"a":36.96,"r":-13.6},{"p":9,"a":37.19,"r":-14.7},{"p":9,"a":37.39,"r":-15},
{"p":9,"a":40.04,"r":-15},{"p":9,"a":40.16,"r":-14.5},{"p":9,"a":40.53,"r":-12.7},{"p":9,"a":41.14,"r":-10.6},{"p":9,"a":41.78,"r":-9.1},{"p":9,"a":42.4,"r":-8.1},{"p":9,"a":43.05,"r":-7.6},{"p":9,"a":43.71,"r":-7.4},{"p":9,"a":44.37,"r":-7.6},{"p":9,"a":45.04,"r":-8.2},{"p":9,"a":45.73,"r":-9.3},{"p":9,"a":46.41,"r":-11.1},{"p":9,"a":47.12,"r":-14.0},{"p":9,"a":47.29,"r":-15},
{"p":9,"a":49.75,"r":-15},{"p":9,"a":50.05,"r":-13.4},{"p":9,"a":50.81,"r":-9.9},{"p":9,"a":51.59,"r":-7.5},{"p":9,"a":52.38,"r":-5.9},{"p":9,"a":53.19,"r":-4.8},{"p":9,"a":54.02,"r":-4.1},{"p":9,"a":54.86,"r":-3.8},{"p":9,"a":55.73,"r":-3.9},{"p":9,"a":56.61,"r":-4.4},{"p":9,"a":57.52,"r":-5.5},{"p":9,"a":58.45,"r":-7.4},{"p":9,"a":59.41,"r":-10.7},{"p":9,"a":59.81,"r":-12.9},{"p":9,"a":60.4,"r":-15},
{"p":9,"a":61.84,"r":-15},{"p":9,"a":62.05,"r":-13.8},{"p":9,"a":62.48,"r":-10.5},{"p":9,"a":63.57,"r":-5.4},{"p":9,"a":64.7,"r":-2.0},{"p":9,"a":65.9,"r":0.5},{"p":9,"a":67,"r":2.3},{"p":9,"a":68.46,"r":4.1},{"p":9,"a":70,"r":5.5},{"p":9,"a":71.39,"r":6.4},{"p":9,"a":73,"r":7.2},{"p":9,"a":74.82,"r":7.9},{"p":9,"a":77,"r":8.4},{"p":9,"a":79.29,"r":8.8},{"p":9,"a":85,"r":9.0},{"p":9,"a":90,"r":9.0},
{"p":9,"a":95,"r":9.0},{"p":9,"a":100.71,"r":8.8},{"p":9,"a":103,"r":8.4},{"p":9,"a":105.18,"r":7.9},{"p":9,"a":107,"r":7.2},{"p":9,"a":108.61,"r":6.4},{"p":9,"a":110,"r":5.5},{"p":9,"a":111.54,"r":4.1},{"p":9,"a":113,"r":2.3},{"p":9,"a":114.1,"r":0.5},{"p":9,"a":115.3,"r":-2.0},{"p":9,"a":116.43,"r":-5.4},{"p":9,"a":117.52,"r":-10.5},{"p":9,"a":117.95,"r":-13.8},{"p":9,"a":118.16,"r":-15},
{"p":9,"a":119.6,"r":-15},{"p":9,"a":120.19,"r":-12.9},{"p":9,"a":120.59,"r":-10.7},{"p":9,"a":121.55,"r":-7.4},{"p":9,"a":122.48,"r":-5.5},{"p":9,"a":123.39,"r":-4.4},{"p":9,"a":124.27,"r":-3.9},{"p":9,"a":125.14,"r":-3.8},{"p":9,"a":125.98,"r":-4.1},{"p":9,"a":126.81,"r":-4.8},{"p":9,"a":127.62,"r":-5.9},{"p":9,"a":128.41,"r":-7.5},{"p":9,"a":129.19,"r":-9.9},{"p":9,"a":129.95,"r":-13.4},{"p":9,"a":130.25,"r":-15},
{"p":9,"a":132.71,"r":-15},{"p":9,"a":132.88,"r":-14.0},{"p":9,"a":133.59,"r":-11.1},{"p":9,"a":134.27,"r":-9.3},{"p":9,"a":134.96,"r":-8.2},{"p":9,"a":135.63,"r":-7.6},{"p":9,"a":136.29,"r":-7.4},{"p":9,"a":136.95,"r":-7.6},{"p":9,"a":137.6,"r":-8.1},{"p":9,"a":138.22,"r":-9.1},{"p":9,"a":138.86,"r":-10.6},{"p":9,"a":139.47,"r":-12.7},{"p":9,"a":139.84,"r":-14.5},{"p":9,"a":139.96,"r":-15},
{"p":9,"a":142.61,"r":-15},{"p":9,"a":142.81,"r":-14.7},{"p":9,"a":143.04,"r":-13.6},{"p":9,"a":143.61,"r":-11.6},{"p":9,"a":144.18,"r":-10.2},{"p":9,"a":144.73,"r":-9.4},{"p":9,"a":145.29,"r":-9.0},{"p":9,"a":145.83,"r":-8.9},{"p":9,"a":146.36,"r":-9.1},{"p":9,"a":146.9,"r":-9.7},{"p":9,"a":147.43,"r":-10.7},{"p":9,"a":147.97,"r":-12.2},{"p":9,"a":148.48,"r":-14.3},{"p":9,"a":148.67,"r":-15},
{"p":9,"a":151.3,"r":-15},{"p":9,"a":151.5,"r":-14.3},{"p":9,"a":152,"r":-12.2},{"p":9,"a":152.5,"r":-10.7},{"p":9,"a":153,"r":-9.7},{"p":9,"a":153.5,"r":-9.1},{"p":9,"a":154,"r":-8.9},{"p":9,"a":154.5,"r":-9.0},{"p":9,"a":155,"r":-9.4},{"p":9,"a":155.5,"r":-10.2},{"p":9,"a":156,"r":-11.6},{"p":9,"a":156.5,"r":-13.6},{"p":9,"a":156.7,"r":-14.7},{"p":9,"a":156.87,"r":-15},
{"p":9,"a":159.1,"r":-15},{"p":9,"a":159.2,"r":-14.5},{"p":9,"a":159.5,"r":-12.7},{"p":9,"a":160,"r":-10.6},{"p":9,"a":160.5,"r":-9.1},{"p":9,"a":161,"r":-8.1},{"p":9,"a":161.5,"r":-7.6},{"p":9,"a":162,"r":-7.4},{"p":9,"a":162.5,"r":-7.6},{"p":9,"a":163,"r":-8.2},{"p":9,"a":163.5,"r":-9.3},{"p":9,"a":164,"r":-11.1},{"p":9,"a":164.5,"r":-14.0},{"p":9,"a":164.62,"r":-15},
{"p":9,"a":166.3,"r":-15},{"p":9,"a":166.5,"r":-13.4},{"p":9,"a":167,"r":-9.9},{"p":9,"a":167.5,"r":-7.5},{"p":9,"a":168,"r":-5.9},{"p":9,"a":168.5,"r":-4.8},{"p":9,"a":169,"r":-4.1},{"p":9,"a":169.5,"r":-3.8},{"p":9,"a":170,"r":-3.9},{"p":9,"a":170.5,"r":-4.4},{"p":9,"a":171,"r":-5.5},{"p":9,"a":171.5,"r":-7.4},{"p":9,"a":172,"r":-10.7},{"p":9,"a":172.2,"r":-12.9},{"p":9,"a":172.35,"r":-15},
{"p":9,"a":173.2,"r":-15},{"p":9,"a":173.3,"r":-13.8},{"p":9,"a":173.5,"r":-10.5},{"p":9,"a":174,"r":-5.4},{"p":9,"a":174.5,"r":-2.0},{"p":9,"a":175,"r":0.5},{"p":9,"a":176,"r":4.1},{"p":9,"a":177,"r":6.4},{"p":9,"a":178,"r":7.9},{"p":9,"a":179,"r":8.8},{"p":9,"a":180,"r":9.0},
{"p":9,"a":181,"r":8.8},{"p":9,"a":182,"r":7.9},{"p":9,"a":183,"r":6.4},{"p":9,"a":184,"r":4.1},{"p":9,"a":185,"r":0.5},{"p":9,"a":185.5,"r":-2.0},{"p":9,"a":186,"r":-5.4},{"p":9,"a":186.5,"r":-10.5},{"p":9,"a":186.7,"r":-13.8},{"p":9,"a":186.8,"r":-15},
{"p":9,"a":187.65,"r":-15},{"p":9,"a":187.8,"r":-12.9},{"p":9,"a":188,"r":-10.7},{"p":9,"a":188.5,"r":-7.4},{"p":9,"a":189,"r":-5.5},{"p":9,"a":189.5,"r":-4.4},{"p":9,"a":190,"r":-3.9},{"p":9,"a":190.5,"r":-3.8},{"p":9,"a":191,"r":-4.1},{"p":9,"a":191.5,"r":-4.8},{"p":9,"a":192,"r":-5.9},{"p":9,"a":192.5,"r":-7.5},{"p":9,"a":193,"r":-9.9},{"p":9,"a":193.5,"r":-13.4},{"p":9,"a":193.7,"r":-15},
{"p":9,"a":195.38,"r":-15},{"p":9,"a":195.5,"r":-14.0},{"p":9,"a":196,"r":-11.1},{"p":9,"a":196.5,"r":-9.3},{"p":9,"a":197,"r":-8.2},{"p":9,"a":197.5,"r":-7.6},{"p":9,"a":198,"r":-7.4},{"p":9,"a":198.5,"r":-7.6},{"p":9,"a":199,"r":-8.1},{"p":9,"a":199.5,"r":-9.1},{"p":9,"a":200,"r":-10.6},{"p":9,"a":200.5,"r":-12.7},{"p":9,"a":200.8,"r":-14.5},{"p":9,"a":200.9,"r":-15},
{"p":9,"a":203.13,"r":-15},{"p":9,"a":203.3,"r":-14.7},{"p":9,"a":203.5,"r":-13.6},{"p":9,"a":204,"r":-11.6},{"p":9,"a":204.5,"r":-10.2},{"p":9,"a":205,"r":-9.4},{"p":9,"a":205.5,"r":-9.0},{"p":9,"a":206,"r":-8.9},{"p":9,"a":206.5,"r":-9.1},{"p":9,"a":207,"r":-9.7},{"p":9,"a":207.5,"r":-10.7},{"p":9,"a":208,"r":-12.2},{"p":9,"a":208.5,"r":-14.3},{"p":9,"a":208.7,"r":-15},
{"p":9,"a":211.33,"r":-15},{"p":9,"a":211.52,"r":-14.3},{"p":9,"a":212.03,"r":-12.2},{"p":9,"a":212.57,"r":-10.7},{"p":9,"a":213.1,"r":-9.7},{"p":9,"a":213.64,"r":-9.1},{"p":9,"a":214.17,"r":-8.9},{"p":9,"a":214.71,"r":-9.0},{"p":9,"a":215.27,"r":-9.4},{"p":9,"a":215.82,"r":-10.2},{"p":9,"a":216.39,"r":-11.6},{"p":9,"a":216.96,"r":-13.6},{"p":9,"a":217.19,"r":-14.7},{"p":9,"a":217.39,"r":-15},
{"p":9,"a":220.04,"r":-15},{"p":9,"a":220.16,"r":-14.5},{"p":9,"a":220.53,"r":-12.7},{"p":9,"a":221.14,"r":-10.6},{"p":9,"a":221.78,"r":-9.1},{"p":9,"a":222.4,"r":-8.1},{"p":9,"a":223.05,"r":-7.6},{"p":9,"a":223.71,"r":-7.4},{"p":9,"a":224.37,"r":-7.6},{"p":9,"a":225.04,"r":-8.2},{"p":9,"a":225.73,"r":-9.3},{"p":9,"a":226.41,"r":-11.1},{"p":9,"a":227.12,"r":-14.0},{"p":9,"a":227.29,"r":-15},
{"p":9,"a":229.75,"r":-15},{"p":9,"a":230.05,"r":-13.4},{"p":9,"a":230.81,"r":-9.9},{"p":9,"a":231.59,"r":-7.5},{"p":9,"a":232.38,"r":-5.9},{"p":9,"a":233.19,"r":-4.8},{"p":9,"a":234.02,"r":-4.1},{"p":9,"a":234.86,"r":-3.8},{"p":9,"a":235.73,"r":-3.9},{"p":9,"a":236.61,"r":-4.4},{"p":9,"a":237.52,"r":-5.5},{"p":9,"a":238.45,"r":-7.4},{"p":9,"a":239.41,"r":-10.7},{"p":9,"a":239.81,"r":-12.9},{"p":9,"a":240.4,"r":-15},
{"p":9,"a":241.84,"r":-15},{"p":9,"a":242.05,"r":-13.8},{"p":9,"a":242.48,"r":-10.5},{"p":9,"a":243.57,"r":-5.4},{"p":9,"a":244.7,"r":-2.0},{"p":9,"a":245.9,"r":0.5},{"p":9,"a":247,"r":2.3},{"p":9,"a":248.46,"r":4.1},{"p":9,"a":250,"r":5.5},{"p":9,"a":251.39,"r":6.4},{"p":9,"a":253,"r":7.2},{"p":9,"a":254.82,"r":7.9},{"p":9,"a":257,"r":8.4},{"p":9,"a":259.29,"r":8.8},{"p":9,"a":265,"r":9.0},{"p":9,"a":270,"r":9.0},
{"p":9,"a":275,"r":9.0},{"p":9,"a":280.71,"r":8.8},{"p":9,"a":283,"r":8.4},{"p":9,"a":285.18,"r":7.9},{"p":9,"a":287,"r":7.2},{"p":9,"a":288.61,"r":6.4},{"p":9,"a":290,"r":5.5},{"p":9,"a":291.54,"r":4.1},{"p":9,"a":293,"r":2.3},{"p":9,"a":294.1,"r":0.5},{"p":9,"a":295.3,"r":-2.0},{"p":9,"a":296.43,"r":-5.4},{"p":9,"a":297.52,"r":-10.5},{"p":9,"a":297.95,"r":-13.8},{"p":9,"a":298.16,"r":-15},
{"p":9,"a":299.6,"r":-15},{"p":9,"a":300.19,"r":-12.9},{"p":9,"a":300.59,"r":-10.7},{"p":9,"a":301.55,"r":-7.4},{"p":9,"a":302.48,"r":-5.5},{"p":9,"a":303.39,"r":-4.4},{"p":9,"a":304.27,"r":-3.9},{"p":9,"a":305.14,"r":-3.8},{"p":9,"a":305.98,"r":-4.1},{"p":9,"a":306.81,"r":-4.8},{"p":9,"a":307.62,"r":-5.9},{"p":9,"a":308.41,"r":-7.5},{"p":9,"a":309.19,"r":-9.9},{"p":9,"a":309.95,"r":-13.4},{"p":9,"a":310.25,"r":-15},
{"p":9,"a":312.71,"r":-15},{"p":9,"a":312.88,"r":-14.0},{"p":9,"a":313.59,"r":-11.1},{"p":9,"a":314.27,"r":-9.3},{"p":9,"a":314.96,"r":-8.2},{"p":9,"a":315.63,"r":-7.6},{"p":9,"a":316.29,"r":-7.4},{"p":9,"a":316.95,"r":-7.6},{"p":9,"a":317.6,"r":-8.1},{"p":9,"a":318.22,"r":-9.1},{"p":9,"a":318.86,"r":-10.6},{"p":9,"a":319.47,"r":-12.7},{"p":9,"a":319.84,"r":-14.5},{"p":9,"a":319.96,"r":-15},
{"p":9,"a":322.61,"r":-15},{"p":9,"a":322.81,"r":-14.7},{"p":9,"a":323.04,"r":-13.6},{"p":9,"a":323.61,"r":-11.6},{"p":9,"a":324.18,"r":-10.2},{"p":9,"a":324.73,"r":-9.4},{"p":9,"a":325.29,"r":-9.0},{"p":9,"a":325.83,"r":-8.9},{"p":9,"a":326.36,"r":-9.1},{"p":9,"a":326.9,"r":-9.7},{"p":9,"a":327.43,"r":-10.7},{"p":9,"a":327.97,"r":-12.2},{"p":9,"a":328.48,"r":-14.3},{"p":9,"a":328.67,"r":-15},
{"p":9,"a":331.3,"r":-15},{"p":9,"a":331.5,"r":-14.3},{"p":9,"a":332,"r":-12.2},{"p":9,"a":332.5,"r":-10.7},{"p":9,"a":333,"r":-9.7},{"p":9,"a":333.5,"r":-9.1},{"p":9,"a":334,"r":-8.9},{"p":9,"a":334.5,"r":-9.0},{"p":9,"a":335,"r":-9.4},{"p":9,"a":335.5,"r":-10.2},{"p":9,"a":336,"r":-11.6},{"p":9,"a":336.5,"r":-13.6},{"p":9,"a":336.7,"r":-14.7},{"p":9,"a":336.87,"r":-15},
{"p":9,"a":339.1,"r":-15},{"p":9,"a":339.2,"r":-14.5},{"p":9,"a":339.5,"r":-12.7},{"p":9,"a":340,"r":-10.6},{"p":9,"a":340.5,"r":-9.1},{"p":9,"a":341,"r":-8.1},{"p":9,"a":341.5,"r":-7.6},{"p":9,"a":342,"r":-7.4},{"p":9,"a":342.5,"r":-7.6},{"p":9,"a":343,"r":-8.2},{"p":9,"a":343.5,"r":-9.3},{"p":9,"a":344,"r":-11.1},{"p":9,"a":344.5,"r":-14.0},{"p":9,"a":344.62,"r":-15},
{"p":9,"a":346.3,"r":-15},{"p":9,"a":346.5,"r":-13.4},{"p":9,"a":347,"r":-9.9},{"p":9,"a":347.5,"r":-7.5},{"p":9,"a":348,"r":-5.9},{"p":9,"a":348.5,"r":-4.8},{"p":9,"a":349,"r":-4.1},{"p":9,"a":349.5,"r":-3.8},{"p":9,"a":350,"r":-3.9},{"p":9,"a":350.5,"r":-4.4},{"p":9,"a":351,"r":-5.5},{"p":9,"a":351.5,"r":-7.4},{"p":9,"a":352,"r":-10.7},{"p":9,"a":352.2,"r":-12.9},{"p":9,"a":352.35,"r":-15},
{"p":9,"a":353.2,"r":-15},{"p":9,"a":353.3,"r":-13.8},{"p":9,"a":353.5,"r":-10.5},{"p":9,"a":354,"r":-5.4},{"p":9,"a":354.5,"r":-2.0},{"p":9,"a":355,"r":0.5},{"p":9,"a":356,"r":4.1},{"p":9,"a":357,"r":6.4},{"p":9,"a":358,"r":7.9},{"p":9,"a":359,"r":8.8},{"p":9,"a":360,"r":9.0}
]},
"concat":[
{"title":"d =0.25λ, N = 2","width":234,"height":234,
 "encoding":{"x":{"field":"x","type":"quantitative","scale":{"domain":[-25,25],"nice":false,"zero":false},"axis":null},"y":{"field":"y","type":"quantitative","scale":{"domain":[-25,25],"nice":false,"zero":false},"axis":null}},
 "layer":[
 {"data":{"name":"spokes"},"transform":[{"calculate":"25*sin(datum.a*PI/180)","as":"x"},{"calculate":"25*cos(datum.a*PI/180)","as":"y"},{"calculate":"-datum.x","as":"x2"},{"calculate":"-datum.y","as":"y2"}],"mark":"rule","encoding":{"x2":{"field":"x2"},"y2":{"field":"y2"}}},
 {"data":{"name":"rings"},"transform":[{"calculate":"datum.v+15","as":"R"},{"calculate":"0","as":"x"},{"calculate":"0","as":"y"}],"mark":"point","encoding":{"size":{"field":"R","type":"quantitative","scale":{"type":"pow","exponent":2,"domain":[0,25],"range":[0,54756]},"legend":null}}},
 {"data":{"name":"alabels"},"transform":[{"calculate":"-27.24*sin(datum.a*PI/180)","as":"x"},{"calculate":"27.24*cos(datum.a*PI/180)","as":"y"}],"mark":{"type":"text","align":{"expr":"datum.a==0||datum.a==180?'center':(datum.a<180?'right':'left')"},"baseline":{"expr":"datum.a==90||datum.a==270?'middle':((datum.a<90||datum.a>270)?'alphabetic':'top')"}},"encoding":{"text":{"field":"t"}}},
 {"data":{"name":"rlabels"},"transform":[{"calculate":"(datum.v+15)*0.17365","as":"x"},{"calculate":"(datum.v+15)*0.98481","as":"y"}],"mark":{"type":"text","align":"center","baseline":"middle"},"encoding":{"text":{"field":"t"}}},
 {"data":{"name":"curves"},"transform":[{"filter":"datum.p==1"},{"calculate":"-(datum.r+15)*sin(datum.a*PI/180)","as":"x"},{"calculate":"(datum.r+15)*cos(datum.a*PI/180)","as":"y"}],"mark":"line","encoding":{"order":{"field":"a","type":"quantitative"}}}
 ]},
{"title":"d =0.25λ, N = 4","width":234,"height":234,
 "encoding":{"x":{"field":"x","type":"quantitative","scale":{"domain":[-25,25],"nice":false,"zero":false},"axis":null},"y":{"field":"y","type":"quantitative","scale":{"domain":[-25,25],"nice":false,"zero":false},"axis":null}},
 "layer":[
 {"data":{"name":"spokes"},"transform":[{"calculate":"25*sin(datum.a*PI/180)","as":"x"},{"calculate":"25*cos(datum.a*PI/180)","as":"y"},{"calculate":"-datum.x","as":"x2"},{"calculate":"-datum.y","as":"y2"}],"mark":"rule","encoding":{"x2":{"field":"x2"},"y2":{"field":"y2"}}},
 {"data":{"name":"rings"},"transform":[{"calculate":"datum.v+15","as":"R"},{"calculate":"0","as":"x"},{"calculate":"0","as":"y"}],"mark":"point","encoding":{"size":{"field":"R","type":"quantitative","scale":{"type":"pow","exponent":2,"domain":[0,25],"range":[0,54756]},"legend":null}}},
 {"data":{"name":"alabels"},"transform":[{"calculate":"-27.24*sin(datum.a*PI/180)","as":"x"},{"calculate":"27.24*cos(datum.a*PI/180)","as":"y"}],"mark":{"type":"text","align":{"expr":"datum.a==0||datum.a==180?'center':(datum.a<180?'right':'left')"},"baseline":{"expr":"datum.a==90||datum.a==270?'middle':((datum.a<90||datum.a>270)?'alphabetic':'top')"}},"encoding":{"text":{"field":"t"}}},
 {"data":{"name":"rlabels"},"transform":[{"calculate":"(datum.v+15)*0.17365","as":"x"},{"calculate":"(datum.v+15)*0.98481","as":"y"}],"mark":{"type":"text","align":"center","baseline":"middle"},"encoding":{"text":{"field":"t"}}},
 {"data":{"name":"curves"},"transform":[{"filter":"datum.p==2"},{"calculate":"-(datum.r+15)*sin(datum.a*PI/180)","as":"x"},{"calculate":"(datum.r+15)*cos(datum.a*PI/180)","as":"y"}],"mark":"line","encoding":{"order":{"field":"a","type":"quantitative"}}}
 ]},
{"title":"d =0.25λ, N = 8","width":234,"height":234,
 "encoding":{"x":{"field":"x","type":"quantitative","scale":{"domain":[-25,25],"nice":false,"zero":false},"axis":null},"y":{"field":"y","type":"quantitative","scale":{"domain":[-25,25],"nice":false,"zero":false},"axis":null}},
 "layer":[
 {"data":{"name":"spokes"},"transform":[{"calculate":"25*sin(datum.a*PI/180)","as":"x"},{"calculate":"25*cos(datum.a*PI/180)","as":"y"},{"calculate":"-datum.x","as":"x2"},{"calculate":"-datum.y","as":"y2"}],"mark":"rule","encoding":{"x2":{"field":"x2"},"y2":{"field":"y2"}}},
 {"data":{"name":"rings"},"transform":[{"calculate":"datum.v+15","as":"R"},{"calculate":"0","as":"x"},{"calculate":"0","as":"y"}],"mark":"point","encoding":{"size":{"field":"R","type":"quantitative","scale":{"type":"pow","exponent":2,"domain":[0,25],"range":[0,54756]},"legend":null}}},
 {"data":{"name":"alabels"},"transform":[{"calculate":"-27.24*sin(datum.a*PI/180)","as":"x"},{"calculate":"27.24*cos(datum.a*PI/180)","as":"y"}],"mark":{"type":"text","align":{"expr":"datum.a==0||datum.a==180?'center':(datum.a<180?'right':'left')"},"baseline":{"expr":"datum.a==90||datum.a==270?'middle':((datum.a<90||datum.a>270)?'alphabetic':'top')"}},"encoding":{"text":{"field":"t"}}},
 {"data":{"name":"rlabels"},"transform":[{"calculate":"(datum.v+15)*0.17365","as":"x"},{"calculate":"(datum.v+15)*0.98481","as":"y"}],"mark":{"type":"text","align":"center","baseline":"middle"},"encoding":{"text":{"field":"t"}}},
 {"data":{"name":"curves"},"transform":[{"filter":"datum.p==3"},{"calculate":"-(datum.r+15)*sin(datum.a*PI/180)","as":"x"},{"calculate":"(datum.r+15)*cos(datum.a*PI/180)","as":"y"}],"mark":"line","encoding":{"order":{"field":"a","type":"quantitative"}}}
 ]},
{"title":"d =0.5λ, N = 2","width":234,"height":234,
 "encoding":{"x":{"field":"x","type":"quantitative","scale":{"domain":[-25,25],"nice":false,"zero":false},"axis":null},"y":{"field":"y","type":"quantitative","scale":{"domain":[-25,25],"nice":false,"zero":false},"axis":null}},
 "layer":[
 {"data":{"name":"spokes"},"transform":[{"calculate":"25*sin(datum.a*PI/180)","as":"x"},{"calculate":"25*cos(datum.a*PI/180)","as":"y"},{"calculate":"-datum.x","as":"x2"},{"calculate":"-datum.y","as":"y2"}],"mark":"rule","encoding":{"x2":{"field":"x2"},"y2":{"field":"y2"}}},
 {"data":{"name":"rings"},"transform":[{"calculate":"datum.v+15","as":"R"},{"calculate":"0","as":"x"},{"calculate":"0","as":"y"}],"mark":"point","encoding":{"size":{"field":"R","type":"quantitative","scale":{"type":"pow","exponent":2,"domain":[0,25],"range":[0,54756]},"legend":null}}},
 {"data":{"name":"alabels"},"transform":[{"calculate":"-27.24*sin(datum.a*PI/180)","as":"x"},{"calculate":"27.24*cos(datum.a*PI/180)","as":"y"}],"mark":{"type":"text","align":{"expr":"datum.a==0||datum.a==180?'center':(datum.a<180?'right':'left')"},"baseline":{"expr":"datum.a==90||datum.a==270?'middle':((datum.a<90||datum.a>270)?'alphabetic':'top')"}},"encoding":{"text":{"field":"t"}}},
 {"data":{"name":"rlabels"},"transform":[{"calculate":"(datum.v+15)*0.17365","as":"x"},{"calculate":"(datum.v+15)*0.98481","as":"y"}],"mark":{"type":"text","align":"center","baseline":"middle"},"encoding":{"text":{"field":"t"}}},
 {"data":{"name":"curves"},"transform":[{"filter":"datum.p==4"},{"calculate":"-(datum.r+15)*sin(datum.a*PI/180)","as":"x"},{"calculate":"(datum.r+15)*cos(datum.a*PI/180)","as":"y"}],"mark":"line","encoding":{"order":{"field":"a","type":"quantitative"}}}
 ]},
{"title":"d =0.5λ, N = 4","width":234,"height":234,
 "encoding":{"x":{"field":"x","type":"quantitative","scale":{"domain":[-25,25],"nice":false,"zero":false},"axis":null},"y":{"field":"y","type":"quantitative","scale":{"domain":[-25,25],"nice":false,"zero":false},"axis":null}},
 "layer":[
 {"data":{"name":"spokes"},"transform":[{"calculate":"25*sin(datum.a*PI/180)","as":"x"},{"calculate":"25*cos(datum.a*PI/180)","as":"y"},{"calculate":"-datum.x","as":"x2"},{"calculate":"-datum.y","as":"y2"}],"mark":"rule","encoding":{"x2":{"field":"x2"},"y2":{"field":"y2"}}},
 {"data":{"name":"rings"},"transform":[{"calculate":"datum.v+15","as":"R"},{"calculate":"0","as":"x"},{"calculate":"0","as":"y"}],"mark":"point","encoding":{"size":{"field":"R","type":"quantitative","scale":{"type":"pow","exponent":2,"domain":[0,25],"range":[0,54756]},"legend":null}}},
 {"data":{"name":"alabels"},"transform":[{"calculate":"-27.24*sin(datum.a*PI/180)","as":"x"},{"calculate":"27.24*cos(datum.a*PI/180)","as":"y"}],"mark":{"type":"text","align":{"expr":"datum.a==0||datum.a==180?'center':(datum.a<180?'right':'left')"},"baseline":{"expr":"datum.a==90||datum.a==270?'middle':((datum.a<90||datum.a>270)?'alphabetic':'top')"}},"encoding":{"text":{"field":"t"}}},
 {"data":{"name":"rlabels"},"transform":[{"calculate":"(datum.v+15)*0.17365","as":"x"},{"calculate":"(datum.v+15)*0.98481","as":"y"}],"mark":{"type":"text","align":"center","baseline":"middle"},"encoding":{"text":{"field":"t"}}},
 {"data":{"name":"curves"},"transform":[{"filter":"datum.p==5"},{"calculate":"-(datum.r+15)*sin(datum.a*PI/180)","as":"x"},{"calculate":"(datum.r+15)*cos(datum.a*PI/180)","as":"y"}],"mark":"line","encoding":{"order":{"field":"a","type":"quantitative"}}}
 ]},
{"title":"d =0.5λ, N = 8","width":234,"height":234,
 "encoding":{"x":{"field":"x","type":"quantitative","scale":{"domain":[-25,25],"nice":false,"zero":false},"axis":null},"y":{"field":"y","type":"quantitative","scale":{"domain":[-25,25],"nice":false,"zero":false},"axis":null}},
 "layer":[
 {"data":{"name":"spokes"},"transform":[{"calculate":"25*sin(datum.a*PI/180)","as":"x"},{"calculate":"25*cos(datum.a*PI/180)","as":"y"},{"calculate":"-datum.x","as":"x2"},{"calculate":"-datum.y","as":"y2"}],"mark":"rule","encoding":{"x2":{"field":"x2"},"y2":{"field":"y2"}}},
 {"data":{"name":"rings"},"transform":[{"calculate":"datum.v+15","as":"R"},{"calculate":"0","as":"x"},{"calculate":"0","as":"y"}],"mark":"point","encoding":{"size":{"field":"R","type":"quantitative","scale":{"type":"pow","exponent":2,"domain":[0,25],"range":[0,54756]},"legend":null}}},
 {"data":{"name":"alabels"},"transform":[{"calculate":"-27.24*sin(datum.a*PI/180)","as":"x"},{"calculate":"27.24*cos(datum.a*PI/180)","as":"y"}],"mark":{"type":"text","align":{"expr":"datum.a==0||datum.a==180?'center':(datum.a<180?'right':'left')"},"baseline":{"expr":"datum.a==90||datum.a==270?'middle':((datum.a<90||datum.a>270)?'alphabetic':'top')"}},"encoding":{"text":{"field":"t"}}},
 {"data":{"name":"rlabels"},"transform":[{"calculate":"(datum.v+15)*0.17365","as":"x"},{"calculate":"(datum.v+15)*0.98481","as":"y"}],"mark":{"type":"text","align":"center","baseline":"middle"},"encoding":{"text":{"field":"t"}}},
 {"data":{"name":"curves"},"transform":[{"filter":"datum.p==6"},{"calculate":"-(datum.r+15)*sin(datum.a*PI/180)","as":"x"},{"calculate":"(datum.r+15)*cos(datum.a*PI/180)","as":"y"}],"mark":"line","encoding":{"order":{"field":"a","type":"quantitative"}}}
 ]},
{"title":"d =λ, N = 2","width":234,"height":234,
 "encoding":{"x":{"field":"x","type":"quantitative","scale":{"domain":[-25,25],"nice":false,"zero":false},"axis":null},"y":{"field":"y","type":"quantitative","scale":{"domain":[-25,25],"nice":false,"zero":false},"axis":null}},
 "layer":[
 {"data":{"name":"spokes"},"transform":[{"calculate":"25*sin(datum.a*PI/180)","as":"x"},{"calculate":"25*cos(datum.a*PI/180)","as":"y"},{"calculate":"-datum.x","as":"x2"},{"calculate":"-datum.y","as":"y2"}],"mark":"rule","encoding":{"x2":{"field":"x2"},"y2":{"field":"y2"}}},
 {"data":{"name":"rings"},"transform":[{"calculate":"datum.v+15","as":"R"},{"calculate":"0","as":"x"},{"calculate":"0","as":"y"}],"mark":"point","encoding":{"size":{"field":"R","type":"quantitative","scale":{"type":"pow","exponent":2,"domain":[0,25],"range":[0,54756]},"legend":null}}},
 {"data":{"name":"alabels"},"transform":[{"calculate":"-27.24*sin(datum.a*PI/180)","as":"x"},{"calculate":"27.24*cos(datum.a*PI/180)","as":"y"}],"mark":{"type":"text","align":{"expr":"datum.a==0||datum.a==180?'center':(datum.a<180?'right':'left')"},"baseline":{"expr":"datum.a==90||datum.a==270?'middle':((datum.a<90||datum.a>270)?'alphabetic':'top')"}},"encoding":{"text":{"field":"t"}}},
 {"data":{"name":"rlabels"},"transform":[{"calculate":"(datum.v+15)*0.17365","as":"x"},{"calculate":"(datum.v+15)*0.98481","as":"y"}],"mark":{"type":"text","align":"center","baseline":"middle"},"encoding":{"text":{"field":"t"}}},
 {"data":{"name":"curves"},"transform":[{"filter":"datum.p==7"},{"calculate":"-(datum.r+15)*sin(datum.a*PI/180)","as":"x"},{"calculate":"(datum.r+15)*cos(datum.a*PI/180)","as":"y"}],"mark":"line","encoding":{"order":{"field":"a","type":"quantitative"}}}
 ]},
{"title":"d =λ, N = 4","width":234,"height":234,
 "encoding":{"x":{"field":"x","type":"quantitative","scale":{"domain":[-25,25],"nice":false,"zero":false},"axis":null},"y":{"field":"y","type":"quantitative","scale":{"domain":[-25,25],"nice":false,"zero":false},"axis":null}},
 "layer":[
 {"data":{"name":"spokes"},"transform":[{"calculate":"25*sin(datum.a*PI/180)","as":"x"},{"calculate":"25*cos(datum.a*PI/180)","as":"y"},{"calculate":"-datum.x","as":"x2"},{"calculate":"-datum.y","as":"y2"}],"mark":"rule","encoding":{"x2":{"field":"x2"},"y2":{"field":"y2"}}},
 {"data":{"name":"rings"},"transform":[{"calculate":"datum.v+15","as":"R"},{"calculate":"0","as":"x"},{"calculate":"0","as":"y"}],"mark":"point","encoding":{"size":{"field":"R","type":"quantitative","scale":{"type":"pow","exponent":2,"domain":[0,25],"range":[0,54756]},"legend":null}}},
 {"data":{"name":"alabels"},"transform":[{"calculate":"-27.24*sin(datum.a*PI/180)","as":"x"},{"calculate":"27.24*cos(datum.a*PI/180)","as":"y"}],"mark":{"type":"text","align":{"expr":"datum.a==0||datum.a==180?'center':(datum.a<180?'right':'left')"},"baseline":{"expr":"datum.a==90||datum.a==270?'middle':((datum.a<90||datum.a>270)?'alphabetic':'top')"}},"encoding":{"text":{"field":"t"}}},
 {"data":{"name":"rlabels"},"transform":[{"calculate":"(datum.v+15)*0.17365","as":"x"},{"calculate":"(datum.v+15)*0.98481","as":"y"}],"mark":{"type":"text","align":"center","baseline":"middle"},"encoding":{"text":{"field":"t"}}},
 {"data":{"name":"curves"},"transform":[{"filter":"datum.p==8"},{"calculate":"-(datum.r+15)*sin(datum.a*PI/180)","as":"x"},{"calculate":"(datum.r+15)*cos(datum.a*PI/180)","as":"y"}],"mark":"line","encoding":{"order":{"field":"a","type":"quantitative"}}}
 ]},
{"title":"d =λ, N = 8","width":234,"height":234,
 "encoding":{"x":{"field":"x","type":"quantitative","scale":{"domain":[-25,25],"nice":false,"zero":false},"axis":null},"y":{"field":"y","type":"quantitative","scale":{"domain":[-25,25],"nice":false,"zero":false},"axis":null}},
 "layer":[
 {"data":{"name":"spokes"},"transform":[{"calculate":"25*sin(datum.a*PI/180)","as":"x"},{"calculate":"25*cos(datum.a*PI/180)","as":"y"},{"calculate":"-datum.x","as":"x2"},{"calculate":"-datum.y","as":"y2"}],"mark":"rule","encoding":{"x2":{"field":"x2"},"y2":{"field":"y2"}}},
 {"data":{"name":"rings"},"transform":[{"calculate":"datum.v+15","as":"R"},{"calculate":"0","as":"x"},{"calculate":"0","as":"y"}],"mark":"point","encoding":{"size":{"field":"R","type":"quantitative","scale":{"type":"pow","exponent":2,"domain":[0,25],"range":[0,54756]},"legend":null}}},
 {"data":{"name":"alabels"},"transform":[{"calculate":"-27.24*sin(datum.a*PI/180)","as":"x"},{"calculate":"27.24*cos(datum.a*PI/180)","as":"y"}],"mark":{"type":"text","align":{"expr":"datum.a==0||datum.a==180?'center':(datum.a<180?'right':'left')"},"baseline":{"expr":"datum.a==90||datum.a==270?'middle':((datum.a<90||datum.a>270)?'alphabetic':'top')"}},"encoding":{"text":{"field":"t"}}},
 {"data":{"name":"rlabels"},"transform":[{"calculate":"(datum.v+15)*0.17365","as":"x"},{"calculate":"(datum.v+15)*0.98481","as":"y"}],"mark":{"type":"text","align":"center","baseline":"middle"},"encoding":{"text":{"field":"t"}}},
 {"data":{"name":"curves"},"transform":[{"filter":"datum.p==9"},{"calculate":"-(datum.r+15)*sin(datum.a*PI/180)","as":"x"},{"calculate":"(datum.r+15)*cos(datum.a*PI/180)","as":"y"}],"mark":"line","encoding":{"order":{"field":"a","type":"quantitative"}}}
 ]}
]
}
